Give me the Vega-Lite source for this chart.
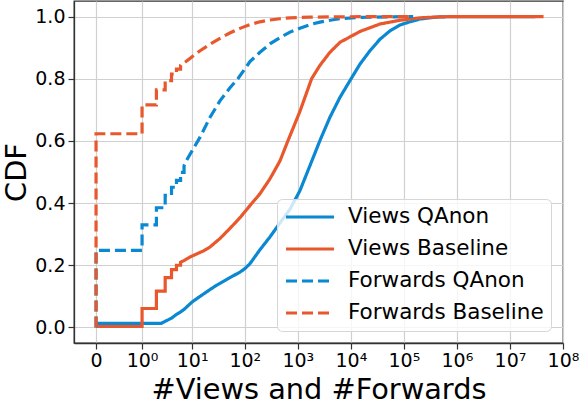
{
  "$schema": "https://vega.github.io/schema/vega-lite/v6.json",
  "width": 489,
  "height": 342,
  "autosize": {"type": "none"},
  "padding": {"left": 74, "top": 1, "right": 18, "bottom": 62},
  "background": "white",
  "config": {
    "font": "DejaVu Sans",
    "view": {"stroke": "#333333", "strokeWidth": 1.3},
    "axis": {
      "labelFont": "DejaVu Sans",
      "titleFont": "DejaVu Sans",
      "labelFontSize": 19,
      "titleFontSize": 28.8,
      "titleFontWeight": "normal",
      "labelColor": "black",
      "titleColor": "black",
      "tickColor": "#333333",
      "tickSize": 6,
      "tickWidth": 1.2,
      "domainColor": "#333333",
      "domainWidth": 1.3,
      "grid": true,
      "gridColor": "#d0d0d0",
      "gridWidth": 1.2
    }
  },
  "data": {
    "values": [
      {"s": "Views QAnon", "i": 0, "x": 0, "y": 0.013},
      {"s": "Views QAnon", "i": 1, "x": 2.5, "y": 0.013},
      {"s": "Views QAnon", "i": 2, "x": 3, "y": 0.02},
      {"s": "Views QAnon", "i": 3, "x": 3.5, "y": 0.025},
      {"s": "Views QAnon", "i": 4, "x": 4, "y": 0.03},
      {"s": "Views QAnon", "i": 5, "x": 5, "y": 0.042},
      {"s": "Views QAnon", "i": 6, "x": 6, "y": 0.05},
      {"s": "Views QAnon", "i": 7, "x": 7, "y": 0.058},
      {"s": "Views QAnon", "i": 8, "x": 10, "y": 0.082},
      {"s": "Views QAnon", "i": 9, "x": 14.2, "y": 0.1},
      {"s": "Views QAnon", "i": 10, "x": 22, "y": 0.122},
      {"s": "Views QAnon", "i": 11, "x": 29.4, "y": 0.136},
      {"s": "Views QAnon", "i": 12, "x": 52, "y": 0.16},
      {"s": "Views QAnon", "i": 13, "x": 81, "y": 0.178},
      {"s": "Views QAnon", "i": 14, "x": 100, "y": 0.189},
      {"s": "Views QAnon", "i": 15, "x": 125, "y": 0.205},
      {"s": "Views QAnon", "i": 16, "x": 193, "y": 0.25},
      {"s": "Views QAnon", "i": 17, "x": 298, "y": 0.291},
      {"s": "Views QAnon", "i": 18, "x": 459, "y": 0.336},
      {"s": "Views QAnon", "i": 19, "x": 710, "y": 0.38},
      {"s": "Views QAnon", "i": 20, "x": 1096, "y": 0.44},
      {"s": "Views QAnon", "i": 21, "x": 1690, "y": 0.52},
      {"s": "Views QAnon", "i": 22, "x": 2610, "y": 0.601},
      {"s": "Views QAnon", "i": 23, "x": 4030, "y": 0.676},
      {"s": "Views QAnon", "i": 24, "x": 6230, "y": 0.74},
      {"s": "Views QAnon", "i": 25, "x": 9620, "y": 0.794},
      {"s": "Views QAnon", "i": 26, "x": 14860, "y": 0.847},
      {"s": "Views QAnon", "i": 27, "x": 22900, "y": 0.89},
      {"s": "Views QAnon", "i": 28, "x": 35400, "y": 0.927},
      {"s": "Views QAnon", "i": 29, "x": 54700, "y": 0.954},
      {"s": "Views QAnon", "i": 30, "x": 84400, "y": 0.973},
      {"s": "Views QAnon", "i": 31, "x": 130000, "y": 0.983},
      {"s": "Views QAnon", "i": 32, "x": 201000, "y": 0.992},
      {"s": "Views QAnon", "i": 33, "x": 311000, "y": 0.996},
      {"s": "Views QAnon", "i": 34, "x": 480000, "y": 0.999},
      {"s": "Views QAnon", "i": 35, "x": 1150000, "y": 1.0},
      {"s": "Views QAnon", "i": 36, "x": 30000000, "y": 1.0},

      {"s": "Views Baseline", "i": 0, "x": 0, "y": 0.003},
      {"s": "Views Baseline", "i": 1, "x": 1, "y": 0.003},
      {"s": "Views Baseline", "i": 2, "x": 1, "y": 0.061},
      {"s": "Views Baseline", "i": 3, "x": 2, "y": 0.061},
      {"s": "Views Baseline", "i": 4, "x": 2, "y": 0.117},
      {"s": "Views Baseline", "i": 5, "x": 3, "y": 0.117},
      {"s": "Views Baseline", "i": 6, "x": 3, "y": 0.16},
      {"s": "Views Baseline", "i": 7, "x": 4, "y": 0.16},
      {"s": "Views Baseline", "i": 8, "x": 4, "y": 0.186},
      {"s": "Views Baseline", "i": 9, "x": 5, "y": 0.186},
      {"s": "Views Baseline", "i": 10, "x": 5, "y": 0.2},
      {"s": "Views Baseline", "i": 11, "x": 6, "y": 0.2},
      {"s": "Views Baseline", "i": 12, "x": 6, "y": 0.21},
      {"s": "Views Baseline", "i": 13, "x": 7, "y": 0.215},
      {"s": "Views Baseline", "i": 14, "x": 9.2, "y": 0.227},
      {"s": "Views Baseline", "i": 15, "x": 16.4, "y": 0.246},
      {"s": "Views Baseline", "i": 16, "x": 22, "y": 0.259},
      {"s": "Views Baseline", "i": 17, "x": 33.9, "y": 0.286},
      {"s": "Views Baseline", "i": 18, "x": 52, "y": 0.318},
      {"s": "Views Baseline", "i": 19, "x": 81, "y": 0.353},
      {"s": "Views Baseline", "i": 20, "x": 125, "y": 0.392},
      {"s": "Views Baseline", "i": 21, "x": 193, "y": 0.43},
      {"s": "Views Baseline", "i": 22, "x": 298, "y": 0.478},
      {"s": "Views Baseline", "i": 23, "x": 459, "y": 0.535},
      {"s": "Views Baseline", "i": 24, "x": 650, "y": 0.6},
      {"s": "Views Baseline", "i": 25, "x": 1096, "y": 0.695},
      {"s": "Views Baseline", "i": 26, "x": 1820, "y": 0.8},
      {"s": "Views Baseline", "i": 27, "x": 2610, "y": 0.843},
      {"s": "Views Baseline", "i": 28, "x": 4030, "y": 0.885},
      {"s": "Views Baseline", "i": 29, "x": 6230, "y": 0.917},
      {"s": "Views Baseline", "i": 30, "x": 14860, "y": 0.952},
      {"s": "Views Baseline", "i": 31, "x": 35400, "y": 0.976},
      {"s": "Views Baseline", "i": 32, "x": 84400, "y": 0.988},
      {"s": "Views Baseline", "i": 33, "x": 201000, "y": 0.996},
      {"s": "Views Baseline", "i": 34, "x": 480000, "y": 0.999},
      {"s": "Views Baseline", "i": 35, "x": 1000000, "y": 1.0},
      {"s": "Views Baseline", "i": 36, "x": 43000000, "y": 1.0},

      {"s": "Forwards QAnon", "i": 0, "x": 0, "y": 0.0},
      {"s": "Forwards QAnon", "i": 1, "x": 0, "y": 0.248},
      {"s": "Forwards QAnon", "i": 2, "x": 1, "y": 0.248},
      {"s": "Forwards QAnon", "i": 3, "x": 1, "y": 0.33},
      {"s": "Forwards QAnon", "i": 4, "x": 2, "y": 0.33},
      {"s": "Forwards QAnon", "i": 5, "x": 2, "y": 0.385},
      {"s": "Forwards QAnon", "i": 6, "x": 3, "y": 0.385},
      {"s": "Forwards QAnon", "i": 7, "x": 3, "y": 0.425},
      {"s": "Forwards QAnon", "i": 8, "x": 4, "y": 0.425},
      {"s": "Forwards QAnon", "i": 9, "x": 4, "y": 0.451},
      {"s": "Forwards QAnon", "i": 10, "x": 5, "y": 0.451},
      {"s": "Forwards QAnon", "i": 11, "x": 5, "y": 0.473},
      {"s": "Forwards QAnon", "i": 12, "x": 6, "y": 0.473},
      {"s": "Forwards QAnon", "i": 13, "x": 6, "y": 0.499},
      {"s": "Forwards QAnon", "i": 14, "x": 7, "y": 0.499},
      {"s": "Forwards QAnon", "i": 15, "x": 7, "y": 0.52},
      {"s": "Forwards QAnon", "i": 16, "x": 8, "y": 0.54},
      {"s": "Forwards QAnon", "i": 17, "x": 9.2, "y": 0.558},
      {"s": "Forwards QAnon", "i": 18, "x": 14.2, "y": 0.612},
      {"s": "Forwards QAnon", "i": 19, "x": 22, "y": 0.676},
      {"s": "Forwards QAnon", "i": 20, "x": 33.9, "y": 0.729},
      {"s": "Forwards QAnon", "i": 21, "x": 52, "y": 0.77},
      {"s": "Forwards QAnon", "i": 22, "x": 74, "y": 0.8},
      {"s": "Forwards QAnon", "i": 23, "x": 125, "y": 0.855},
      {"s": "Forwards QAnon", "i": 24, "x": 193, "y": 0.885},
      {"s": "Forwards QAnon", "i": 25, "x": 298, "y": 0.912},
      {"s": "Forwards QAnon", "i": 26, "x": 459, "y": 0.932},
      {"s": "Forwards QAnon", "i": 27, "x": 710, "y": 0.95},
      {"s": "Forwards QAnon", "i": 28, "x": 1096, "y": 0.962},
      {"s": "Forwards QAnon", "i": 29, "x": 1690, "y": 0.974},
      {"s": "Forwards QAnon", "i": 30, "x": 2610, "y": 0.982},
      {"s": "Forwards QAnon", "i": 31, "x": 4030, "y": 0.988},
      {"s": "Forwards QAnon", "i": 32, "x": 6230, "y": 0.993},
      {"s": "Forwards QAnon", "i": 33, "x": 14860, "y": 0.997},
      {"s": "Forwards QAnon", "i": 34, "x": 54700, "y": 0.999},
      {"s": "Forwards QAnon", "i": 35, "x": 150000, "y": 1.0},

      {"s": "Forwards Baseline", "i": 0, "x": 0, "y": 0.0},
      {"s": "Forwards Baseline", "i": 1, "x": 0, "y": 0.623},
      {"s": "Forwards Baseline", "i": 2, "x": 1, "y": 0.623},
      {"s": "Forwards Baseline", "i": 3, "x": 1, "y": 0.716},
      {"s": "Forwards Baseline", "i": 4, "x": 2, "y": 0.716},
      {"s": "Forwards Baseline", "i": 5, "x": 2, "y": 0.764},
      {"s": "Forwards Baseline", "i": 6, "x": 3, "y": 0.764},
      {"s": "Forwards Baseline", "i": 7, "x": 3, "y": 0.794},
      {"s": "Forwards Baseline", "i": 8, "x": 4, "y": 0.794},
      {"s": "Forwards Baseline", "i": 9, "x": 4, "y": 0.815},
      {"s": "Forwards Baseline", "i": 10, "x": 5, "y": 0.815},
      {"s": "Forwards Baseline", "i": 11, "x": 5, "y": 0.831},
      {"s": "Forwards Baseline", "i": 12, "x": 6, "y": 0.831},
      {"s": "Forwards Baseline", "i": 13, "x": 6, "y": 0.843},
      {"s": "Forwards Baseline", "i": 14, "x": 7, "y": 0.85},
      {"s": "Forwards Baseline", "i": 15, "x": 9.2, "y": 0.866},
      {"s": "Forwards Baseline", "i": 16, "x": 14.2, "y": 0.89},
      {"s": "Forwards Baseline", "i": 17, "x": 22, "y": 0.911},
      {"s": "Forwards Baseline", "i": 18, "x": 33.9, "y": 0.93},
      {"s": "Forwards Baseline", "i": 19, "x": 52, "y": 0.947},
      {"s": "Forwards Baseline", "i": 20, "x": 81, "y": 0.962},
      {"s": "Forwards Baseline", "i": 21, "x": 125, "y": 0.974},
      {"s": "Forwards Baseline", "i": 22, "x": 193, "y": 0.983},
      {"s": "Forwards Baseline", "i": 23, "x": 298, "y": 0.989},
      {"s": "Forwards Baseline", "i": 24, "x": 459, "y": 0.993},
      {"s": "Forwards Baseline", "i": 25, "x": 710, "y": 0.996},
      {"s": "Forwards Baseline", "i": 26, "x": 1690, "y": 0.998},
      {"s": "Forwards Baseline", "i": 27, "x": 6230, "y": 0.999},
      {"s": "Forwards Baseline", "i": 28, "x": 20000, "y": 1.0},
      {"s": "Forwards Baseline", "i": 29, "x": 150000, "y": 1.0}
    ]
  },
  "mark": {"type": "line", "strokeWidth": 3.2, "strokeCap": "butt", "clip": true},
  "encoding": {
    "x": {
      "field": "x",
      "type": "quantitative",
      "scale": {"type": "symlog", "constant": 0.157, "domain": [-0.252, 100000000], "nice": false, "zero": false},
      "axis": {
        "values": [0, 1, 10, 100, 1000, 10000, 100000, 1000000, 10000000, 100000000],
        "labelExpr": "datum.value == 0 ? '0' : '10' + ['⁰','¹','²','³','⁴','⁵','⁶','⁷','⁸'][round(log(datum.value)/LN10)]",
        "labelPadding": 2,
        "labelFlush": false,
        "labelOverlap": false,
        "title": "#Views and #Forwards",
        "titlePadding": 5
      }
    },
    "y": {
      "field": "y",
      "type": "quantitative",
      "scale": {"domain": [-0.05, 1.05], "nice": false, "zero": false},
      "axis": {
        "values": [0, 0.2, 0.4, 0.6, 0.8, 1.0],
        "format": ".1f",
        "labelPadding": 3,
        "title": "CDF",
        "titlePadding": 3
      }
    },
    "color": {
      "field": "s",
      "type": "nominal",
      "scale": {
        "domain": ["Views QAnon", "Views Baseline", "Forwards QAnon", "Forwards Baseline"],
        "range": ["#0a88d2", "#e9582d", "#0a88d2", "#e9582d"]
      },
      "legend": {
        "title": null,
        "orient": "none",
        "legendX": 203,
        "legendY": 198,
        "symbolType": "stroke",
        "symbolSize": 2304,
        "symbolStrokeWidth": 3.2,
        "clipHeight": 22,
        "labelFont": "DejaVu Sans",
        "labelFontSize": 21.5,
        "labelColor": "black",
        "labelOffset": 12,
        "labelLimit": 400,
        "fillColor": "rgba(255,255,255,0.8)",
        "strokeColor": "#d6d6d6",
        "cornerRadius": 5,
        "padding": 7,
        "rowPadding": 10
      }
    },
    "strokeDash": {
      "field": "s",
      "type": "nominal",
      "scale": {
        "domain": ["Views QAnon", "Views Baseline", "Forwards QAnon", "Forwards Baseline"],
        "range": [[1, 0], [1, 0], [11, 5], [11, 5]]
      },
      "legend": {
        "title": null,
        "orient": "none",
        "legendX": 203,
        "legendY": 198,
        "symbolType": "stroke",
        "symbolSize": 2304,
        "symbolStrokeWidth": 3.2,
        "clipHeight": 22
      }
    },
    "order": {"field": "i", "type": "quantitative"}
  }
}
